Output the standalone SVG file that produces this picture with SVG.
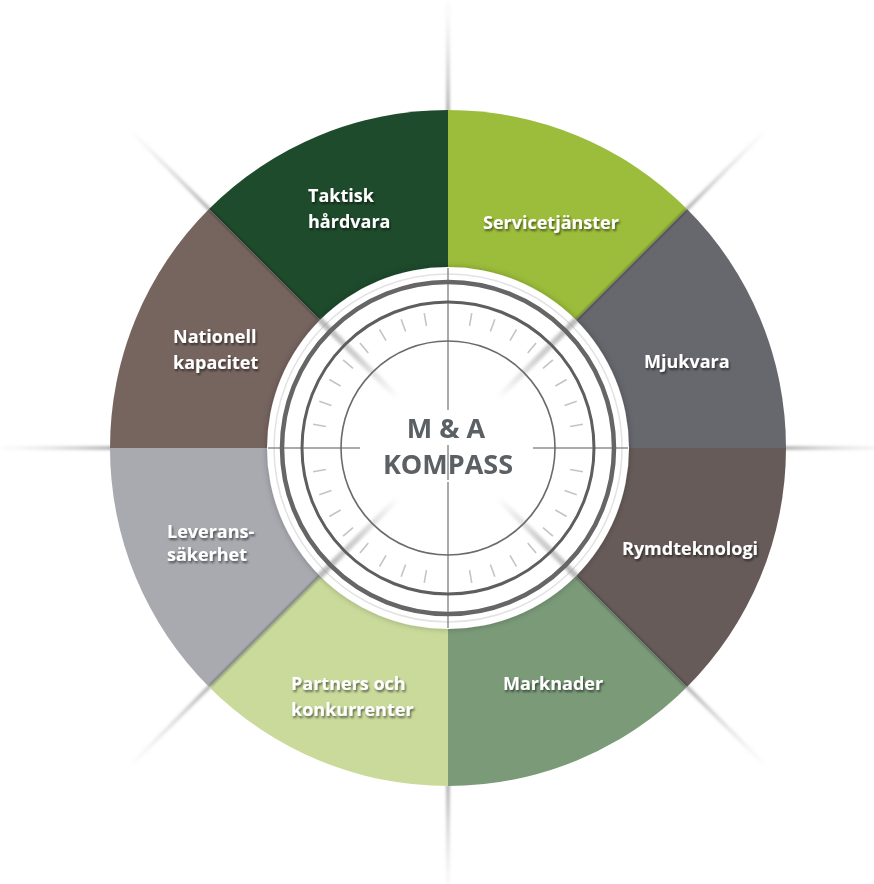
<svg xmlns="http://www.w3.org/2000/svg" width="874" height="884" viewBox="0 0 874 884">
  <style>
    .lbl { font-family: "Open Sans", "Noto Sans", "Liberation Sans", sans-serif; font-weight: 700; font-size: 18px; fill: #ffffff; filter: url(#txtShadow); }
    .ctr { font-family: "Open Sans", "Noto Sans", "Liberation Sans", sans-serif; font-weight: 700; font-size: 27px; fill: #5b6065; text-anchor: middle; }
    .edge { stroke: #1a1a1a; stroke-opacity: 0.35; stroke-width: 2.5; filter: url(#soft1); }
    .tick { stroke: #c4c4c4; stroke-width: 1.6; }
    .cross { stroke: #8e8e8e; stroke-width: 1.5; }
  </style>
  <defs>
    <filter id="txtShadow" x="-20%" y="-40%" width="140%" height="180%">
      <feDropShadow dx="1.2" dy="2" stdDeviation="1.3" flood-color="#000" flood-opacity="0.55"/>
    </filter>
    <filter id="soft1" x="-10%" y="-10%" width="120%" height="120%">
      <feGaussianBlur stdDeviation="0.9"/>
    </filter>
    <filter id="soft2" x="-20%" y="-200%" width="140%" height="500%">
      <feGaussianBlur stdDeviation="1.6"/>
    </filter>
    <filter id="soft3" x="-20%" y="-20%" width="140%" height="140%">
      <feGaussianBlur stdDeviation="0.7"/>
    </filter>
    <filter id="discShadow" x="-20%" y="-20%" width="140%" height="140%">
      <feDropShadow dx="0" dy="0" stdDeviation="3" flood-color="#000" flood-opacity="0.25"/>
    </filter>
    <linearGradient id="rayGrad" x1="0" y1="0" x2="1" y2="0">
      <stop offset="0" stop-color="#8c8c8c" stop-opacity="0.8"/>
      <stop offset="0.35" stop-color="#a8a8a8" stop-opacity="0.55"/>
      <stop offset="1" stop-color="#cccccc" stop-opacity="0"/>
    </linearGradient>
    <linearGradient id="innerRayGrad" x1="0" y1="0" x2="1" y2="0">
      <stop offset="0" stop-color="#999" stop-opacity="0"/>
      <stop offset="0.5" stop-color="#999" stop-opacity="0.45"/>
      <stop offset="1" stop-color="#888" stop-opacity="0.6"/>
    </linearGradient>
    <rect id="ray" x="336" y="-1.6" width="116" height="3.2" fill="url(#rayGrad)"/>
    <rect id="innerRay" x="70" y="-3" width="112" height="6" fill="url(#innerRayGrad)"/>
  </defs>

  <rect width="874" height="884" fill="#ffffff"/>

  <!-- rays outside the wheel -->
  <g id="connectors" transform="translate(448,448)" filter="url(#soft2)">
    <use href="#ray" transform="rotate(-90)"/>
    <use href="#ray" transform="rotate(-45)"/>
    <use href="#ray" transform="rotate(0)"/>
    <use href="#ray" transform="rotate(45)"/>
    <use href="#ray" transform="rotate(90)"/>
    <use href="#ray" transform="rotate(135)"/>
    <use href="#ray" transform="rotate(180)"/>
    <use href="#ray" transform="rotate(-135)"/>
  </g>

  <g id="taktisk">
    <path d="M448,448 L209,209 A338,338 0 0 1 448,110 Z" fill="#1e4b2c"/>
    <text class="lbl" x="308" y="202">Taktisk</text>
    <text class="lbl" x="308" y="228">hårdvara</text>
  </g>
  <g id="servicetjanster">
    <path d="M448,448 L448,110 A338,338 0 0 1 687,209 Z" fill="#9cbd3b"/>
    <text class="lbl" x="483" y="229">Servicetjänster</text>
  </g>
  <g id="mjukvara">
    <path d="M448,448 L687,209 A338,338 0 0 1 786,448 Z" fill="#67676e"/>
    <text class="lbl" x="644" y="368">Mjukvara</text>
  </g>
  <g id="rymdteknologi">
    <path d="M448,448 L786,448 A338,338 0 0 1 687,687 Z" fill="#665b58"/>
    <text class="lbl" x="622" y="555">Rymdteknologi</text>
  </g>
  <g id="marknader">
    <path d="M448,448 L687,687 A338,338 0 0 1 448,786 Z" fill="#7a9a78"/>
    <text class="lbl" x="503" y="690">Marknader</text>
  </g>
  <g id="partners">
    <path d="M448,448 L448,786 A338,338 0 0 1 209,687 Z" fill="#c9da9b"/>
    <text class="lbl" x="291" y="690">Partners och</text>
    <text class="lbl" x="291" y="716">konkurrenter</text>
  </g>
  <g id="leverans">
    <path d="M448,448 L209,687 A338,338 0 0 1 110,448 Z" fill="#a9aab0"/>
    <text class="lbl" x="167" y="538">Leverans-</text>
    <text class="lbl" x="167" y="561">säkerhet</text>
  </g>
  <g id="nationell">
    <path d="M448,448 L110,448 A338,338 0 0 1 209,209 Z" fill="#76645f"/>
    <text class="lbl" x="173" y="343">Nationell</text>
    <text class="lbl" x="173" y="369">kapacitet</text>
  </g>

  <!-- sector boundary shading -->
  <g id="boundaries">
    <line class="edge" x1="448" y1="268" x2="448" y2="111"/>
    <line class="edge" x1="575" y1="321" x2="686" y2="210"/>
    <line class="edge" x1="628" y1="448" x2="785" y2="448"/>
    <line class="edge" x1="575" y1="575" x2="686" y2="686"/>
    <line class="edge" x1="448" y1="628" x2="448" y2="785"/>
    <line class="edge" x1="321" y1="575" x2="210" y2="686"/>
    <line class="edge" x1="268" y1="448" x2="111" y2="448"/>
    <line class="edge" x1="321" y1="321" x2="210" y2="210"/>
  </g>

  <!-- compass dial -->
  <g id="kompass">
    <circle cx="448" cy="448" r="181" fill="#ffffff" filter="url(#discShadow)"/>
    <circle cx="448" cy="448" r="174" fill="none" stroke="#e2e2e2" stroke-width="1.5"/>
    <g transform="translate(448,448)" filter="url(#soft2)">
      <use href="#innerRay" transform="rotate(-45)"/>
      <use href="#innerRay" transform="rotate(45)"/>
      <use href="#innerRay" transform="rotate(135)"/>
      <use href="#innerRay" transform="rotate(-135)"/>
    </g>
    <g transform="translate(448,448)" filter="url(#soft3)">
      <line class="tick" x1="0" y1="-124" x2="0" y2="-137" transform="rotate(10)"/>
      <line class="tick" x1="0" y1="-124" x2="0" y2="-137" transform="rotate(20)"/>
      <line class="tick" x1="0" y1="-124" x2="0" y2="-137" transform="rotate(30)"/>
      <line class="tick" x1="0" y1="-124" x2="0" y2="-137" transform="rotate(40)"/>
      <line class="tick" x1="0" y1="-124" x2="0" y2="-137" transform="rotate(50)"/>
      <line class="tick" x1="0" y1="-124" x2="0" y2="-137" transform="rotate(60)"/>
      <line class="tick" x1="0" y1="-124" x2="0" y2="-137" transform="rotate(70)"/>
      <line class="tick" x1="0" y1="-124" x2="0" y2="-137" transform="rotate(80)"/>
      <line class="tick" x1="0" y1="-124" x2="0" y2="-137" transform="rotate(100)"/>
      <line class="tick" x1="0" y1="-124" x2="0" y2="-137" transform="rotate(110)"/>
      <line class="tick" x1="0" y1="-124" x2="0" y2="-137" transform="rotate(120)"/>
      <line class="tick" x1="0" y1="-124" x2="0" y2="-137" transform="rotate(130)"/>
      <line class="tick" x1="0" y1="-124" x2="0" y2="-137" transform="rotate(140)"/>
      <line class="tick" x1="0" y1="-124" x2="0" y2="-137" transform="rotate(150)"/>
      <line class="tick" x1="0" y1="-124" x2="0" y2="-137" transform="rotate(160)"/>
      <line class="tick" x1="0" y1="-124" x2="0" y2="-137" transform="rotate(170)"/>
      <line class="tick" x1="0" y1="-124" x2="0" y2="-137" transform="rotate(190)"/>
      <line class="tick" x1="0" y1="-124" x2="0" y2="-137" transform="rotate(200)"/>
      <line class="tick" x1="0" y1="-124" x2="0" y2="-137" transform="rotate(210)"/>
      <line class="tick" x1="0" y1="-124" x2="0" y2="-137" transform="rotate(220)"/>
      <line class="tick" x1="0" y1="-124" x2="0" y2="-137" transform="rotate(230)"/>
      <line class="tick" x1="0" y1="-124" x2="0" y2="-137" transform="rotate(240)"/>
      <line class="tick" x1="0" y1="-124" x2="0" y2="-137" transform="rotate(250)"/>
      <line class="tick" x1="0" y1="-124" x2="0" y2="-137" transform="rotate(260)"/>
      <line class="tick" x1="0" y1="-124" x2="0" y2="-137" transform="rotate(280)"/>
      <line class="tick" x1="0" y1="-124" x2="0" y2="-137" transform="rotate(290)"/>
      <line class="tick" x1="0" y1="-124" x2="0" y2="-137" transform="rotate(300)"/>
      <line class="tick" x1="0" y1="-124" x2="0" y2="-137" transform="rotate(310)"/>
      <line class="tick" x1="0" y1="-124" x2="0" y2="-137" transform="rotate(320)"/>
      <line class="tick" x1="0" y1="-124" x2="0" y2="-137" transform="rotate(330)"/>
      <line class="tick" x1="0" y1="-124" x2="0" y2="-137" transform="rotate(340)"/>
      <line class="tick" x1="0" y1="-124" x2="0" y2="-137" transform="rotate(350)"/>
    </g>
    <!-- crosshair -->
    <line class="cross" x1="448" y1="268" x2="448" y2="628"/>
    <line class="cross" x1="268" y1="448" x2="360" y2="448"/>
    <line class="cross" x1="533" y1="448" x2="628" y2="448"/>
    <!-- rings -->
    <circle cx="448" cy="448" r="166" fill="none" stroke="#666666" stroke-width="4.5"/>
    <circle cx="448" cy="448" r="146" fill="none" stroke="#5e5e5e" stroke-width="3"/>
    <circle cx="448" cy="448" r="107" fill="none" stroke="#6a6a6a" stroke-width="1.6"/>
    <!-- title -->
    <rect x="400" y="410" width="96" height="35" fill="#ffffff"/>
    <rect x="360" y="450" width="173" height="32" fill="#ffffff"/>
    <line class="cross" x1="448" y1="450" x2="448" y2="480"/>
    <text class="ctr" x="446" y="438">M &amp; A</text>
    <text class="ctr" x="448" y="474">KOMPASS</text>
  </g>
</svg>
